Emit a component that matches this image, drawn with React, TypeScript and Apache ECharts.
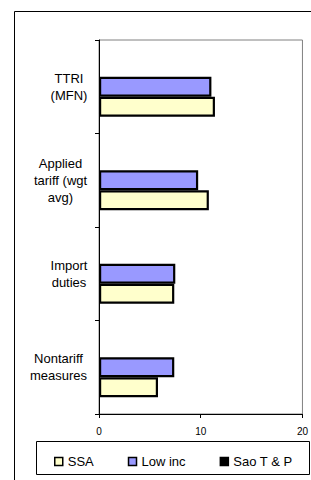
import React, { useEffect, useRef } from "react";
import * as echarts from "echarts";

const categories = ["TTRI\n(MFN)", "Applied\ntariff (wgt\navg)", "Import\nduties", "Nontariff\nmeasures"];
const seriesNames = ["SSA", "Low inc", "Sao T & P"];
const ssaValues = [11.4, 10.8, 7.4, 5.8];
const lowIncValues = [11.05, 9.75, 7.5, 7.4];
const saoValues: (number | null)[] = [null, null, null, null];
const xTicks = [0, 10, 20];

const FONT = "Liberation Sans, Arial, sans-serif";

function measure(text: string, size: number): number {
  const c = document.createElement("canvas").getContext("2d");
  if (!c) return text.length * size * 0.55;
  c.font = `${size}px "Liberation Sans"`;
  return c.measureText(text).width;
}

export default function App() {
  const ref = useRef<HTMLDivElement>(null);
  useEffect(() => {
    if (!ref.current) return;
    const chart = echarts.init(ref.current, null, { renderer: "svg" });
    const rich: Record<string, any> = {};
    categories.forEach((c, i) => {
      const w = Math.max(...c.split("\n").map((l) => measure(l, 13)));
      rich["c" + i] = { width: Math.ceil(w) + 1, align: "center", fontSize: 13, lineHeight: 17, fontFamily: FONT, color: "#000" };
    });
    const barStyle = { borderColor: "#000", borderWidth: 2.2 };
    chart.setOption({
      animation: false,
      backgroundColor: "#fff",
      graphic: [
        { type: "rect", shape: { x: 14.5, y: 11.5, width: 420, height: 600 }, style: { fill: "none", stroke: "#000", lineWidth: 1 }, silent: true, z: -1 },
        { type: "rect", shape: { x: 36.5, y: 441.5, width: 273, height: 33 }, style: { fill: "#fff", stroke: "#000", lineWidth: 1 }, silent: true, z: 0 },
      ],
      grid: { left: 99, top: 40, right: 7, bottom: 66, show: true, borderColor: "#808080", borderWidth: 1, backgroundColor: "#fff" },
      legend: {
        data: seriesNames,
        left: 49,
        top: 450,
        itemWidth: 8,
        itemHeight: 8,
        itemGap: 34,
        icon: "rect",
        itemStyle: { borderColor: "#000", borderWidth: 1.5 },
        textStyle: { fontSize: 13, fontFamily: FONT, color: "#000" },
        z: 10,
      },
      xAxis: {
        type: "value",
        min: xTicks[0],
        max: xTicks[xTicks.length - 1],
        interval: 10,
        axisLine: { show: true, lineStyle: { color: "#000", width: 1 } },
        axisTick: { show: true, length: 4, lineStyle: { color: "#000" } },
        axisLabel: { fontSize: 10, fontFamily: FONT, color: "#000", margin: 12 },
        splitLine: { show: false },
      },
      yAxis: {
        type: "category",
        inverse: true,
        data: categories,
        axisLine: { show: true, lineStyle: { color: "#000", width: 1 } },
        axisTick: { show: true, length: 4, alignWithLabel: false, lineStyle: { color: "#000" } },
        axisLabel: {
          interval: 0,
          align: "right",
          margin: 11,
          lineHeight: 17,
          fontSize: 13,
          fontFamily: FONT,
          color: "#000",
          formatter: (v: string, idx: number) => v.split("\n").map((l) => `{c${idx}|${l}}`).join("\n"),
          rich,
        },
        splitLine: { show: false },
      },
      series: [
        { name: seriesNames[2], type: "bar", data: saoValues, barGap: "0%", barCategoryGap: "36%", itemStyle: { color: "#000", ...barStyle } },
        { name: seriesNames[1], type: "bar", data: lowIncValues, barGap: "0%", barCategoryGap: "36%", itemStyle: { color: "#9999FF", ...barStyle } },
        { name: seriesNames[0], type: "bar", data: ssaValues, barGap: "0%", barCategoryGap: "36%", itemStyle: { color: "#FFFFCC", ...barStyle } },
      ],
    });
    return () => chart.dispose();
  }, []);
  return <div ref={ref} style={{ position: "fixed", left: 0, top: 0, width: 311, height: 480, background: "#fff" }} />;
}
